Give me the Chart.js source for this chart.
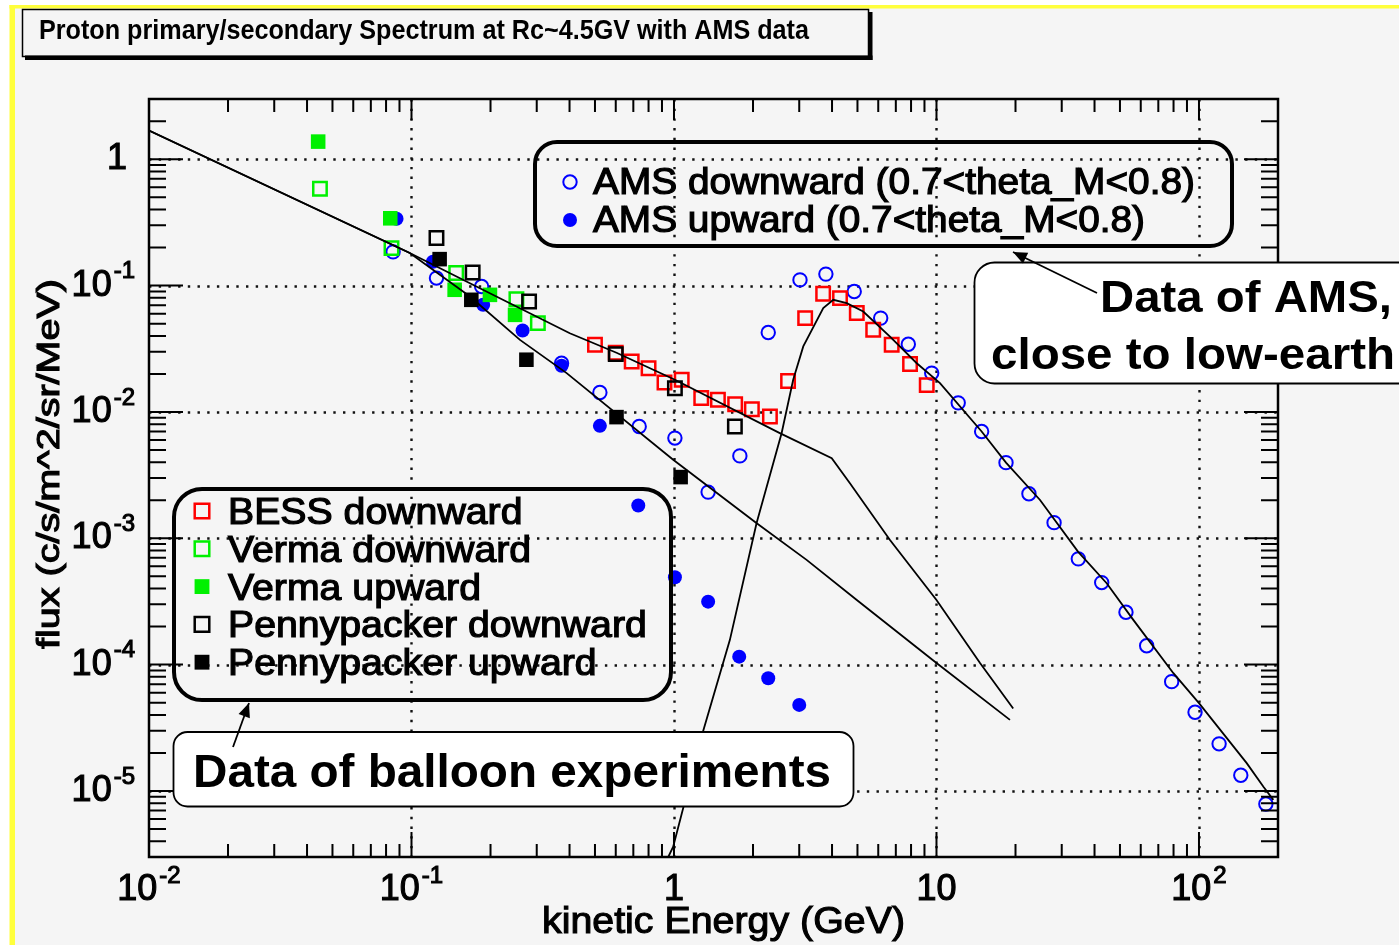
<!DOCTYPE html>
<html lang="en">
<head>
    <meta charset="UTF-8">
    <title>Proton primary/secondary Spectrum at Rc~4.5GV with AMS data</title>
    <script src="https://cdn.jsdelivr.net/npm/chart.js"></script>
    <style>
        html, body { margin: 0; padding: 0; background: #f5f5f5; overflow: hidden; }
        canvas { display: block; }
    </style>
</head>
<body>
<canvas id="myChart" width="1399" height="945"></canvas>
<script>
// values: kinetic energy (GeV) and flux (c/s/m^2/sr/MeV)
const bessDownE = [0.50, 0.60, 0.69, 0.80, 0.92, 1.07, 1.27, 1.47, 1.71, 1.98, 2.32, 2.72, 3.16, 3.70, 4.29, 4.97, 5.74, 6.75, 7.93, 9.18];
const bessDownFlux = [0.034, 0.0294, 0.0251, 0.0222, 0.0171, 0.0180, 0.0129, 0.0125, 0.0115, 0.0105, 0.0092, 0.0176, 0.0553, 0.0861, 0.0796, 0.0606, 0.0447, 0.034, 0.024, 0.0163];

const vermaDownE = [0.0448, 0.0839, 0.148, 0.251, 0.303];
const vermaDownFlux = [0.584, 0.198, 0.126, 0.0782, 0.0505];
const vermaUpE = [0.0441, 0.083, 0.146, 0.199, 0.248];
const vermaUpFlux = [1.38, 0.341, 0.0927, 0.0845, 0.0587];

const pennyDownE = [0.1245, 0.171, 0.2805, 0.60, 1.008, 1.706];
const pennyDownFlux = [0.238, 0.127, 0.0748, 0.0287, 0.0154, 0.00766];
const pennyUpE = [0.128, 0.169, 0.274, 0.604, 1.06];
const pennyUpFlux = [0.162, 0.0772, 0.0259, 0.0091, 0.00305];

const amsDownE = [0.0851, 0.1245, 0.185, 0.373, 0.522, 0.737, 1.008, 1.349, 1.782, 2.286, 3.02, 3.79, 4.86, 6.13, 7.81, 9.59, 12.1, 14.86, 18.4, 22.5, 28.05, 34.7, 42.6, 52.7, 63.2, 78.7, 96.6, 119.3, 144.3, 179.8];
const amsDownFlux = [0.185, 0.1147, 0.0984, 0.0243, 0.01425, 0.00766, 0.00621, 0.00232, 0.00449, 0.0425, 0.111, 0.1233, 0.0898, 0.0553, 0.0343, 0.0203, 0.0118, 0.0070, 0.00397, 0.00225, 0.00133, 0.000687, 0.000446, 0.00026, 0.000141, 7.33e-5, 4.2e-5, 2.36e-5, 1.33e-5, 7.89e-6];
const amsUpE = [0.0877, 0.1207, 0.1875, 0.265, 0.373, 0.522, 0.731, 1.008, 1.349, 1.772, 2.286, 3.0];
const amsUpFlux = [0.338, 0.1543, 0.0705, 0.0441, 0.0232, 0.00776, 0.001815, 0.000492, 0.000315, 0.0001156, 7.8e-5, 4.8e-5];

// model curves
const modelDownE = [0.01, 0.0985, 0.187, 0.401, 0.604, 1.008, 2.53, 3.99, 4.68, 6.65, 10.0, 14.65, 19.6];
const modelDownFlux = [1.69, 0.181, 0.0927, 0.042, 0.0294, 0.018, 0.0068, 0.0043, 0.00273, 0.00097, 0.000325, 0.000103, 4.5e-5];
const modelUpE = [0.01, 0.0985, 0.167, 0.259, 0.39, 0.993, 2.06, 3.2, 4.97, 10.0, 19.05];
const modelUpFlux = [1.69, 0.181, 0.082, 0.0372, 0.0203, 0.00418, 0.00132, 0.000675, 0.000325, 0.000103, 3.65e-5];
const amsFitE = [0.951, 0.993, 1.29, 1.633, 2.064, 2.57, 2.845, 3.108, 3.704, 4.045, 4.55, 5.26, 6.65, 8.41, 10.31, 14.86, 18.4, 24.8, 34.6, 44.5, 56.2, 79.9, 100, 152, 176, 192];
const amsFitFlux = [3.0e-6, 3.62e-6, 2.95e-5, 1.57e-4, 1.32e-3, 6.79e-3, 0.018, 0.033, 0.0664, 0.0772, 0.0727, 0.0624, 0.0395, 0.0243, 0.0169, 0.0070, 0.00397, 0.00201, 0.000785, 0.000441, 0.000226, 8.55e-5, 4.95e-5, 1.66e-5, 1.08e-5, 8.5e-6];

// axis labels
const xTickValues = [0.01, 0.1, 1, 10, 100];
const xTickBase = ['10', '10', '1', '10', '10'];
const xTickExp = ['-2', '-1', '', '', '2'];
const yTickValues = [1, 0.1, 0.01, 0.001, 0.0001, 0.00001];
const yTickBase = ['1', '10', '10', '10', '10', '10'];
const yTickExp = ['', '-1', '-2', '-3', '-4', '-5'];

const titleText = 'Proton primary/secondary Spectrum at Rc~4.5GV with AMS data';
const xTitle = 'kinetic Energy (GeV)';
const yTitle = 'flux (c/s/m^2/sr/MeV)';
const balloonLegend = ['BESS downward', 'Verma downward', 'Verma upward', 'Pennypacker downward', 'Pennypacker upward'];
const amsLegend = ['AMS downward', 'AMS upward'];
const amsLegendText = ['AMS downward (0.7<theta_M<0.8)', 'AMS upward (0.7<theta_M<0.8)'];

const FONT = '"Liberation Sans", Arial, sans-serif';
const W = 1399, H = 945;

function pts(xs, ys) {
    return xs.map((x, i) => ({ x: x, y: ys[i] }));
}

function curve(label, xs, ys) {
    return { label: label, data: pts(xs, ys), showLine: true, borderColor: '#000', borderWidth: 1.8,
             pointRadius: 0, fill: false, tension: 0 };
}

function openRect(label, xs, ys, color) {
    return { label: label, data: pts(xs, ys), pointStyle: 'rect', pointRadius: 9.5, legendRadius: 10.3,
             backgroundColor: 'rgba(0,0,0,0)', borderColor: color, borderWidth: 2.5 };
}

function fullRect(label, xs, ys, color) {
    return { label: label, data: pts(xs, ys), pointStyle: 'rect', pointRadius: 10.3, legendRadius: 10.5,
             backgroundColor: color, borderColor: color, borderWidth: 0 };
}

// first dataset ends up on top
const datasets = [
    curve('model downward', modelDownE, modelDownFlux),
    curve('model upward', modelUpE, modelUpFlux),
    curve('AMS fit', amsFitE, amsFitFlux),
    fullRect('Pennypacker upward', pennyUpE, pennyUpFlux, '#000000'),
    openRect('Pennypacker downward', pennyDownE, pennyDownFlux, '#000000'),
    fullRect('Verma upward', vermaUpE, vermaUpFlux, '#00f000'),
    openRect('Verma downward', vermaDownE, vermaDownFlux, '#00f000'),
    openRect('BESS downward', bessDownE, bessDownFlux, '#ff0000'),
    { label: 'AMS upward', data: pts(amsUpE, amsUpFlux), pointStyle: 'circle', pointRadius: 7,
      backgroundColor: '#0000ff', borderColor: '#0000ff', borderWidth: 0 },
    { label: 'AMS downward', data: pts(amsDownE, amsDownFlux), pointStyle: 'circle', pointRadius: 6.7,
      backgroundColor: 'rgba(0,0,0,0)', borderColor: '#0000ff', borderWidth: 2 }
];

function byLabel(label) {
    return datasets.find(d => d.label === label);
}

function roundRectPath(ctx, x, y, w, h, r) {
    ctx.beginPath();
    ctx.moveTo(x + r, y);
    ctx.lineTo(x + w - r, y);
    ctx.arcTo(x + w, y, x + w, y + r, r);
    ctx.lineTo(x + w, y + h - r);
    ctx.arcTo(x + w, y + h, x + w - r, y + h, r);
    ctx.lineTo(x + r, y + h);
    ctx.arcTo(x, y + h, x, y + h - r, r);
    ctx.lineTo(x, y + r);
    ctx.arcTo(x, y, x + r, y, r);
    ctx.closePath();
}

// text squeezed/stretched to a width; heavy > 0 thickens the strokes a bit
function fitText(ctx, txt, x, y, width, font, align, heavy) {
    ctx.font = font;
    const w = ctx.measureText(txt).width;
    const s = width / w;
    ctx.save();
    ctx.translate(x, y);
    ctx.scale(s, 1);
    ctx.textAlign = 'left';
    let x0 = 0;
    if (align === 'center') x0 = -w / 2;
    if (align === 'right') x0 = -w;
    ctx.fillText(txt, x0, 0);
    if (heavy) {
        ctx.lineWidth = heavy;
        ctx.strokeStyle = ctx.fillStyle;
        ctx.strokeText(txt, x0, 0);
    }
    ctx.restore();
}

function heavyText(ctx, txt, x, y) {
    ctx.fillText(txt, x, y);
    ctx.lineWidth = 1.1;
    ctx.strokeStyle = ctx.fillStyle;
    ctx.strokeText(txt, x, y);
}

function powLabel(ctx, base, exp, x, y, align) {
    const bf = '36px ' + FONT, ef = '24px ' + FONT;
    ctx.font = bf;
    const bw = ctx.measureText(base).width;
    ctx.font = ef;
    const ew = exp ? ctx.measureText(exp).width + 2 : 0;
    const total = bw + ew;
    let x0 = align === 'right' ? x - total : x - total / 2;
    ctx.textAlign = 'left';
    ctx.textBaseline = 'middle';
    ctx.font = bf;
    heavyText(ctx, base, x0, y);
    if (exp) {
        ctx.font = ef;
        heavyText(ctx, exp, x0 + bw + 2, y - 14);
    }
}

function marker(ctx, ds, x, y) {
    const r = ds.legendRadius || ds.pointRadius;
    ctx.save();
    ctx.beginPath();
    if (ds.pointStyle === 'rect') {
        const s = r * Math.SQRT1_2;
        ctx.rect(x - s, y - s, 2 * s, 2 * s);
    } else {
        ctx.arc(x, y, r, 0, Math.PI * 2);
    }
    ctx.fillStyle = ds.backgroundColor;
    ctx.fill();
    if (ds.borderWidth > 0) {
        ctx.lineWidth = ds.borderWidth;
        ctx.strokeStyle = ds.borderColor;
        ctx.stroke();
    }
    ctx.restore();
}

function arrow(ctx, x1, y1, x2, y2) {
    ctx.beginPath();
    ctx.moveTo(x1, y1);
    ctx.lineTo(x2, y2);
    ctx.stroke();
    const a = Math.atan2(y2 - y1, x2 - x1), L = 14, hw = 6;
    ctx.beginPath();
    ctx.moveTo(x2, y2);
    ctx.lineTo(x2 - L * Math.cos(a) + hw * Math.sin(a), y2 - L * Math.sin(a) - hw * Math.cos(a));
    ctx.lineTo(x2 - L * Math.cos(a) - hw * Math.sin(a), y2 - L * Math.sin(a) + hw * Math.cos(a));
    ctx.closePath();
    ctx.fill();
}

// 1..9 x 10^n inside [min, max]
function logTicks(min, max) {
    const out = [];
    const lo = Math.floor(Math.log10(min)), hi = Math.ceil(Math.log10(max));
    for (let e = lo; e <= hi; e++) {
        for (let k = 1; k <= 9; k++) {
            const v = k * Math.pow(10, e);
            if (v > min * 1.001 && v < max * 0.999) out.push({ v: v, major: k === 1 });
        }
    }
    return out;
}

const rootStyle = {
    id: 'rootStyle',
    beforeDraw(chart) {
        const ctx = chart.ctx;
        ctx.save();
        ctx.fillStyle = '#ffffff';
        ctx.fillRect(0, 0, W, H);
        ctx.fillStyle = '#f5f5f5';
        ctx.fillRect(15, 8, W, H);
        ctx.fillStyle = '#ffff3c';
        ctx.fillRect(9.5, 5, 5.5, H);
        ctx.fillRect(9.5, 5, W, 3.5);

        // title box with shadow
        ctx.fillStyle = '#000';
        ctx.fillRect(868, 12, 4.5, 48);
        ctx.fillRect(25, 55.5, 847.5, 4.5);
        ctx.strokeStyle = '#000';
        ctx.lineWidth = 1.5;
        ctx.strokeRect(22.5, 9.5, 846, 47);
        ctx.textBaseline = 'alphabetic';
        fitText(ctx, titleText, 39, 39, 770, 'bold 28px ' + FONT, 'left');
        ctx.restore();
    },
    beforeDatasetsDraw(chart) {
        const ctx = chart.ctx, a = chart.chartArea;
        const xs = chart.scales.x, ys = chart.scales.y;
        ctx.save();
        ctx.strokeStyle = '#111';
        ctx.lineWidth = 2.4;
        ctx.setLineDash([2.4, 7.3]);
        xTickValues.forEach(v => {
            const px = Math.round(xs.getPixelForValue(v)) + 0.5;
            if (px <= a.left + 2 || px >= a.right - 2) return;
            ctx.beginPath();
            ctx.moveTo(px, a.top);
            ctx.lineTo(px, a.bottom);
            ctx.stroke();
        });
        yTickValues.forEach(v => {
            const py = Math.round(ys.getPixelForValue(v)) + 0.5;
            if (py <= a.top + 2 || py >= a.bottom - 2) return;
            ctx.beginPath();
            ctx.moveTo(a.left, py);
            ctx.lineTo(a.right, py);
            ctx.stroke();
        });
        ctx.restore();
    },
    afterDatasetsDraw(chart) {
        const ctx = chart.ctx, a = chart.chartArea;
        const xs = chart.scales.x, ys = chart.scales.y;
        ctx.save();

        // frame and ticks on four sides
        ctx.strokeStyle = '#000';
        ctx.lineWidth = 2.5;
        ctx.strokeRect(a.left, a.top, a.right - a.left, a.bottom - a.top);
        ctx.lineWidth = 2;
        logTicks(xs.min, xs.max).forEach(t => {
            const px = xs.getPixelForValue(t.v);
            const len = t.major ? 25 : 13;
            ctx.beginPath();
            ctx.moveTo(px, a.bottom);
            ctx.lineTo(px, a.bottom - len);
            ctx.moveTo(px, a.top);
            ctx.lineTo(px, a.top + (t.major ? 21 : 13));
            ctx.stroke();
        });
        logTicks(ys.min, ys.max).forEach(t => {
            const py = ys.getPixelForValue(t.v);
            const len = t.major ? 34 : 17;
            ctx.beginPath();
            ctx.moveTo(a.left, py);
            ctx.lineTo(a.left + len, py);
            ctx.moveTo(a.right, py);
            ctx.lineTo(a.right - len, py);
            ctx.stroke();
        });

        // tick labels
        ctx.fillStyle = '#000';
        xTickValues.forEach((v, i) => {
            powLabel(ctx, xTickBase[i], xTickExp[i], xs.getPixelForValue(v), 890, 'center');
        });
        yTickValues.forEach((v, i) => {
            const right = yTickExp[i] ? 135 : 127;
            powLabel(ctx, yTickBase[i], yTickExp[i], right, ys.getPixelForValue(v), 'right');
        });

        // axis titles
        ctx.textBaseline = 'alphabetic';
        fitText(ctx, xTitle, 542, 933, 363, '37px ' + FONT, 'left', 1.1);
        ctx.save();
        ctx.translate(59, 464);
        ctx.rotate(-Math.PI / 2);
        fitText(ctx, yTitle, 0, 0, 370, '32px ' + FONT, 'center', 1.1);
        ctx.restore();

        // AMS legend
        ctx.strokeStyle = '#000';
        ctx.lineWidth = 4;
        roundRectPath(ctx, 535, 142, 697, 104, 22);
        ctx.stroke();
        amsLegend.forEach((lab, i) => {
            const cy = 182 + i * 38;
            marker(ctx, byLabel(lab), 570, cy);
            ctx.fillStyle = '#000';
            ctx.textBaseline = 'alphabetic';
            fitText(ctx, amsLegendText[i], 593, cy + 12, i === 0 ? 602 : 552, '36px ' + FONT, 'left', 1.2);
        });

        // balloon legend
        ctx.strokeStyle = '#000';
        ctx.lineWidth = 4;
        roundRectPath(ctx, 174, 489, 497, 211, 28);
        ctx.stroke();
        const legendScale = 1.09;
        balloonLegend.forEach((lab, i) => {
            const cy = 511 + i * 37.8;
            marker(ctx, byLabel(lab), 202, cy);
            ctx.fillStyle = '#000';
            ctx.font = '36px ' + FONT;
            const w = ctx.measureText(lab).width * legendScale;
            fitText(ctx, lab, 228, cy + 13, w, '36px ' + FONT, 'left', 1.2);
        });

        // note boxes
        ctx.strokeStyle = '#000';
        ctx.lineWidth = 1.8;
        ctx.fillStyle = '#ffffff';
        roundRectPath(ctx, 974.5, 262.5, 480, 121, 20);
        ctx.fill();
        ctx.stroke();
        roundRectPath(ctx, 173.5, 732, 680, 74.5, 14);
        ctx.fill();
        ctx.stroke();
        ctx.fillStyle = '#000';
        fitText(ctx, 'Data of AMS,', 1100, 312, 292, 'bold 45px ' + FONT, 'left');
        fitText(ctx, 'close to low-earth', 991, 369, 404, 'bold 45px ' + FONT, 'left');
        fitText(ctx, 'Data of balloon experiments', 193, 787, 638, 'bold 46px ' + FONT, 'left');
        ctx.strokeStyle = '#000';
        ctx.lineWidth = 1.8;
        arrow(ctx, 1097, 293, 1013, 252);
        arrow(ctx, 233, 747, 249, 703);

        ctx.restore();
    }
};

const ctx = document.getElementById('myChart').getContext('2d');
const myChart = new Chart(ctx, {
    type: 'scatter',
    data: { datasets: datasets },
    options: {
        responsive: false,
        maintainAspectRatio: false,
        animation: false,
        devicePixelRatio: 1,
        events: [],
        layout: { padding: { left: 149, top: 99, right: 121, bottom: 88 } },
        plugins: {
            legend: { display: false },
            tooltip: { enabled: false },
            title: { display: false }
        },
        scales: {
            x: { type: 'logarithmic', min: 0.01, max: 200, display: false },
            y: { type: 'logarithmic', min: 3e-6, max: 3, display: false }
        }
    },
    plugins: [rootStyle]
});
</script>
</body>
</html>
